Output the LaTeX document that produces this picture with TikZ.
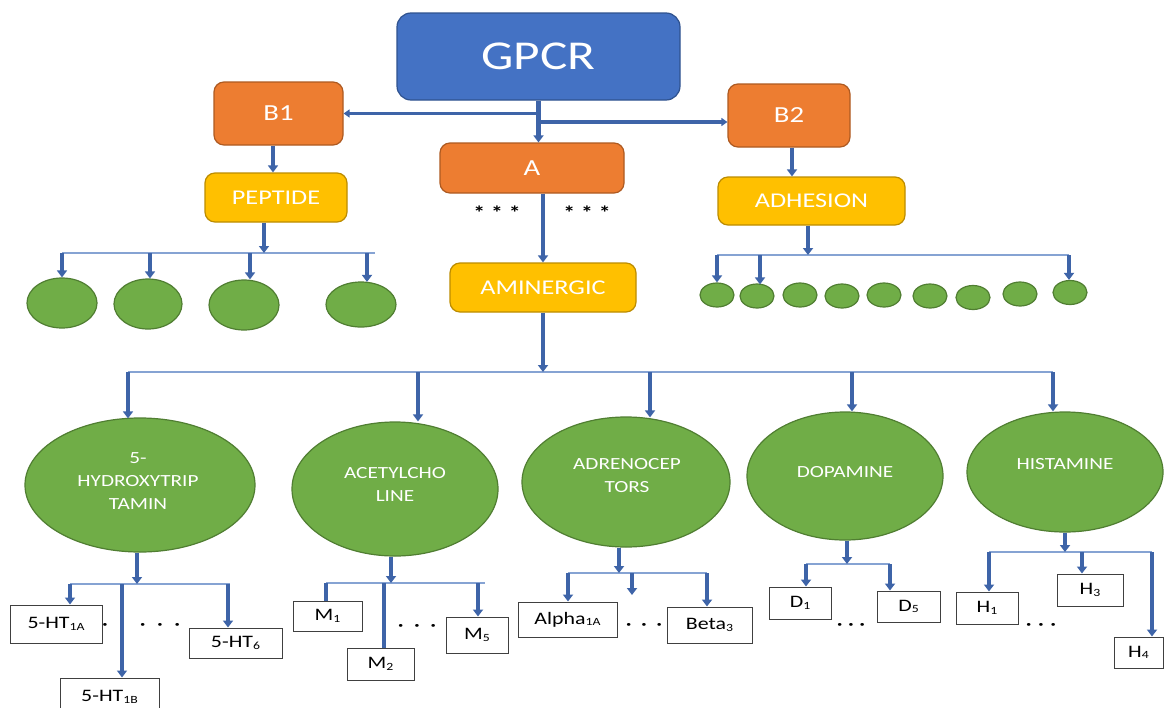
\documentclass[tikz,border=0pt]{standalone}
\usepackage{fontspec}
\setmainfont{Carlito}[FakeStretch=1.25]
\usetikzlibrary{arrows.meta,calc,shapes.geometric}
\definecolor{gblue}{HTML}{4472C4}
\definecolor{gblueD}{HTML}{2F528F}
\definecolor{orng}{HTML}{ED7D31}
\definecolor{orngD}{HTML}{AE5A21}
\definecolor{yell}{HTML}{FFC000}
\definecolor{yellD}{HTML}{BC8C00}
\definecolor{grn}{HTML}{70AD47}
\definecolor{grnD}{HTML}{507E32}
\definecolor{arrc}{HTML}{3E64A8}
\definecolor{linec}{HTML}{86A3D3}
\newcommand{\sbs}[1]{\raisebox{-1.5pt}{\fontsize{11}{11}\selectfont #1}}
\newcommand{\tdots}[1]{·\hspace{#1}·\hspace{#1}·}
\begin{document}
\begin{tikzpicture}[x=1pt,y=-1pt,
  rbox/.style={rounded corners=10pt, draw, line width=1.2pt, inner sep=0pt, text=white, align=center},
  gpcrbox/.style={rbox, fill=gblue, draw=gblueD, rounded corners=14pt, font=\fontsize{41}{46}\selectfont},
  obox/.style={rbox, fill=orng, draw=orngD, font=\fontsize{23}{27}\selectfont},
  ybox/.style={rbox, fill=yell, draw=yellD, font=\fontsize{21}{25}\selectfont},
  circ/.style={ellipse, fill=grn, draw=grnD, line width=1.2pt, inner sep=0pt},
  lbox/.style={draw=black!75, line width=1pt, fill=white, inner sep=0pt, font=\fontsize{17.5}{20}\selectfont},
  etext/.style={text=white, align=center, inner sep=0pt, font=\fontsize{17}{23}\selectfont},
  arr/.style={draw=arrc, line width=4.5pt, -{Triangle[width=10pt,length=7pt]}},
  harr/.style={draw=arrc, line width=3.5pt, -{Triangle[width=8pt,length=6pt]}},
  bar/.style={draw=arrc, line width=4.5pt},
  thinl/.style={draw=linec, line width=1.3pt},
  dotsn/.style={font=\fontsize{20}{20}\selectfont, inner sep=0pt},
  stars/.style={font=\fontsize{19}{19}\bfseries\selectfont, inner sep=0pt}
]
\useasboundingbox[fill=white] (0,0) rectangle (1164,707);

% ---------- top boxes ----------
\node[gpcrbox, minimum width=283pt, minimum height=87pt] (GPCR) at (538.5,56.5) {GPCR};
\node[obox, minimum width=129pt, minimum height=63pt] (B1) at (278.5,113.5) {B1};
\node[obox, minimum width=122pt, minimum height=63pt] (B2) at (789,115.5) {B2};
\node[obox, minimum width=184pt, minimum height=50pt] (A) at (532,168) {A};
\node[ybox, minimum width=142pt, minimum height=49pt] (PEP) at (276,197.5) {PEPTIDE};
\node[ybox, minimum width=187pt, minimum height=48pt] (ADH) at (811.5,201) {ADHESION};
\node[ybox, minimum width=186pt, minimum height=49pt] (AMI) at (543,287.5) {AMINERGIC};

\node[stars] (st1) at (497,213) {*\hspace{6pt}*\hspace{6pt}*};
\node[stars] (st2) at (587,213) {*\hspace{6pt}*\hspace{6pt}*};

% top connectors
\draw[arr] (GPCR.south) -- (GPCR.south |- A.north);
\draw[harr] (GPCR.south |- B1.east) -- (B1.east);
\coordinate (b2in) at ($(B2.west)+(0,6.5)$);
\draw[harr] (GPCR.south |- b2in) -- (b2in);
\draw[arr] (AMI.north |- A.south) -- (AMI.north);
\coordinate (b1d) at (273,145);
\draw[arr] (b1d |- B1.south) -- (b1d |- PEP.north);
\coordinate (b2d) at (792,147);
\draw[arr] (b2d |- B2.south) -- (b2d |- ADH.north);

% ---------- peptide circles ----------
\node[circ, minimum width=70pt, minimum height=50pt] (p1) at (62,303) {};
\node[circ, minimum width=68pt, minimum height=50pt] (p2) at (148,304) {};
\node[circ, minimum width=70pt, minimum height=50pt] (p3) at (244,305) {};
\node[circ, minimum width=70pt, minimum height=45pt] (p4) at (361,304.5) {};
\coordinate (pj) at (264,253);
\coordinate (pl) at (62,253);
\coordinate (pr) at (375,253);
\draw[thinl] (pl) -- (pr);
\draw[arr] (pj |- PEP.south) -- (pj);
\coordinate (pa1) at (62,253);
\coordinate (pa2) at (150,253);
\coordinate (pa3) at (250,253);
\coordinate (pa4) at (367,253);
\draw[arr] (pa1) -- (pa1 |- p1.north);
\draw[arr] (pa2) -- (pa2 |- p2.north);
\draw[arr] (pa3) -- (pa3 |- p3.north);
\draw[arr] (pa4) -- ($(pa4 |- p4.north)+(0,0.5)$);

% ---------- adhesion circles ----------
\foreach \n/\x/\y in {a1/717/295, a2/757/296, a3/800/295, a4/842/296, a5/884/295, a6/930/296, a7/973/297.5, a8/1020/294, a9/1070/292.5}
  \node[circ, minimum width=34pt, minimum height=24pt] (\n) at (\x,\y) {};
\coordinate (aj) at (808,255);
\coordinate (al) at (717,255);
\coordinate (ar) at (1069,255);
\draw[thinl] (al) -- (ar);
\draw[arr] (aj |- ADH.south) -- (aj);
\coordinate (aa2) at (760,255);
\draw[arr] (al) -- (al |- a1.north);
\draw[arr] (aa2) -- ($(aa2 |- a2.north)+(0,1)$);
\draw[arr] (ar) -- (ar |- a9.north);

% ---------- aminergic families ----------
\node[circ, minimum width=230pt, minimum height=134pt] (E1) at (140,485) {};
\node[circ, minimum width=206pt, minimum height=134pt] (E2) at (395,489) {};
\node[circ, minimum width=208pt, minimum height=130pt] (E3) at (626,482) {};
\node[circ, minimum width=196pt, minimum height=128pt] (E4) at (845,476) {};
\node[circ, minimum width=196pt, minimum height=120pt] (E5) at (1065,472) {};
\node[etext] (t1) at (138,481) {5-\\HYDROXYTRIP\\TAMIN};
\node[etext] (t2) at (395,484) {ACETYLCHO\\LINE};
\node[etext] (t3) at (627,476) {ADRENOCEP\\TORS};
\node[etext] (t4) at (845,472) {DOPAMINE};
\node[etext] (t5) at (1065,464) {HISTAMINE};

\coordinate (mj) at (543,372);
\coordinate (ml) at (128,372);
\coordinate (mr) at (1053,372);
\draw[thinl] (ml) -- (mr);
\draw[arr] (mj |- AMI.south) -- (mj);
\coordinate (m2) at (418,372);
\coordinate (m3) at (650,372);
\coordinate (m4) at (852,372);
\draw[arr] (ml) -- ($(ml |- E1.north)+(0,1)$);
\draw[arr] (m2) -- (m2 |- E2.north);
\draw[arr] (m3) -- ($(m3 |- E3.north)+(0,1)$);
\draw[arr] (m4) -- (m4 |- E4.north);
\draw[arr] (mr) -- (mr |- E5.north);

% ---------- 5-HT group ----------
\node[lbox, minimum width=92pt, minimum height=38pt] (ht1a) at (56,624) {5-HT\sbs{1A}};
\node[lbox, minimum width=99pt, minimum height=38pt] (ht1b) at (109.5,697) {5-HT\sbs{1B}};
\node[lbox, minimum width=93pt, minimum height=30pt] (ht6) at (235.5,643) {5-HT\sbs{6}};
\coordinate (g1j) at (137,584);
\coordinate (g1l) at (70,584);
\coordinate (g1r) at (230,584);
\coordinate (g1m) at (122,584);
\coordinate (g1s) at (228,584);
\draw[thinl] (g1l) -- (g1r);
\draw[arr] (g1j |- E1.south) -- (g1j);
\draw[arr] (g1l) -- (g1l |- ht1a.north);
\draw[arr] (g1m) -- (g1m |- ht1b.north);
\draw[arr] (g1s) -- (g1s |- ht6.north);
\node[dotsn] (d1a) at (105,627) {·};
\node[dotsn] (d1b) at (160,627) {\tdots{11pt}};

% ---------- acetylcholine group ----------
\node[lbox, minimum width=69pt, minimum height=30pt] (M1) at (327.5,616) {M\sbs{1}};
\node[lbox, minimum width=67pt, minimum height=32pt] (M2) at (380.5,664) {M\sbs{2}};
\node[lbox, minimum width=62pt, minimum height=36pt] (M5) at (477,635) {M\sbs{5}};
\coordinate (g2j) at (391,583);
\coordinate (g2l) at (326,583);
\coordinate (g2r) at (485,583);
\coordinate (g2m) at (384,583);
\coordinate (g2s) at (478,583);
\draw[thinl] (g2l) -- (g2r);
\draw[arr] (g2j |- E2.south) -- (g2j);
\draw[bar] (g2l) -- (g2l |- M1.north);
\draw[bar] (g2m) -- (g2m |- M2.north);
\draw[arr] (g2s) -- (g2s |- M5.north);
\node[dotsn] (d2) at (417,628) {\tdots{10pt}};

% ---------- adrenoceptor group ----------
\node[lbox, minimum width=99pt, minimum height=35pt] (al1a) at (567.5,619.5) {Alpha\sbs{1A}};
\node[lbox, minimum width=85pt, minimum height=36pt] (be3) at (709.5,625) {Beta\sbs{3}};
\coordinate (g3j) at (619,573);
\coordinate (g3l) at (568,573);
\coordinate (g3r) at (707,573);
\coordinate (g3m) at (632,573);
\coordinate (g3e) at (632,595);
\draw[thinl] (g3l) -- (g3r);
\draw[arr] (g3j |- E3.south) -- (g3j);
\draw[arr] (g3l) -- (g3l |- al1a.north);
\draw[arr] (g3m) -- (g3e);
\draw[arr] (g3r) -- (g3r |- be3.north);
\node[dotsn] (d3) at (644,627) {\tdots{9pt}};

% ---------- dopamine group ----------
\node[lbox, minimum width=62pt, minimum height=32pt] (D1) at (800,603) {D\sbs{1}};
\node[lbox, minimum width=63pt, minimum height=31pt] (D5) at (908.5,606.5) {D\sbs{5}};
\coordinate (g4j) at (847,564);
\coordinate (g4l) at (806,564);
\coordinate (g4r) at (890,564);
\draw[thinl] (g4l) -- (g4r);
\draw[arr] (g4j |- E4.south) -- (g4j);
\draw[arr] (g4l) -- (g4l |- D1.north);
\draw[arr] (g4r) -- (g4r |- D5.north);
\node[dotsn] (d4) at (851,627) {\tdots{5pt}};

% ---------- histamine group ----------
\node[lbox, minimum width=62pt, minimum height=32pt] (H1) at (987,608) {H\sbs{1}};
\node[lbox, minimum width=66pt, minimum height=32pt] (H3) at (1090,590) {H\sbs{3}};
\node[lbox, minimum width=49pt, minimum height=31pt] (H4) at (1138.5,652.5) {H\sbs{4}};
\coordinate (g5j) at (1065,552);
\coordinate (g5l) at (989,552);
\coordinate (g5r) at (1152,552);
\coordinate (g5m) at (1082,552);
\draw[thinl] (g5l) -- (g5r);
\draw[arr] (g5j |- E5.south) -- (g5j);
\draw[arr] (g5l) -- (g5l |- H1.north);
\draw[arr] (g5m) -- (g5m |- H3.north);
\draw[arr] (g5r) -- (g5r |- H4.north);
\node[dotsn] (d5) at (1041,627) {\tdots{6pt}};
\end{tikzpicture}
\end{document}
